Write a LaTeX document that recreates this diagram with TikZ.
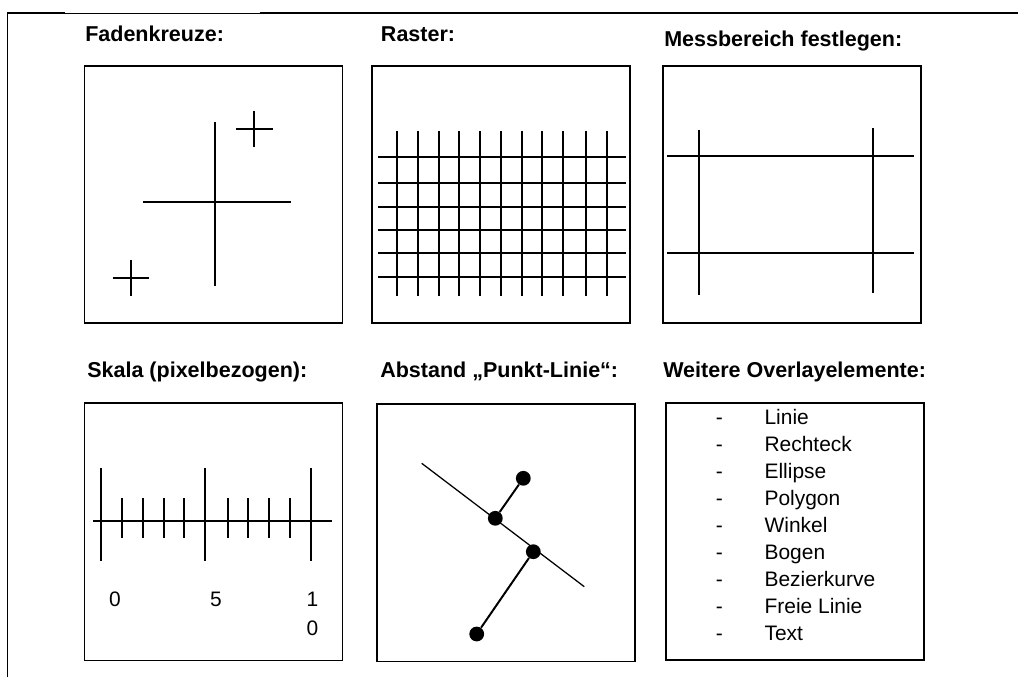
\documentclass[tikz,border=0pt]{standalone}
\usepackage{fontspec}
\setmainfont{Liberation Sans}

\begin{document}
\begin{tikzpicture}[x=0.025cm, y=-0.025cm,
      kasten/.style={draw, line width=1.2pt, minimum width=6.45cm, minimum height=6.43cm, inner sep=0pt},
      titel/.style={anchor=base west, inner sep=0pt, font=\fontsize{15.3pt}{17pt}\selectfont\bfseries},
      eintrag/.style={anchor=base west, inner sep=0pt, font=\fontsize{14.9pt}{17pt}\selectfont},
      zahl/.style={anchor=base, inner sep=0pt, align=center, font=\fontsize{14.9pt}{20pt}\selectfont},
      strich/.style={line width=1.4pt},
      punkt/.style={circle, fill, inner sep=0pt, minimum size=0.37cm}]
      \useasboundingbox (0,0) rectangle (1018,677);

      % rahmen
      \draw[line width=1.4pt] (7.5,677) -- (7.5,13) -- (65,13);
      \draw[line width=0.7pt] (65,13) -- (260,13);
      \draw[line width=1.4pt] (260,13) -- (1018,13);

      % obere reihe
      \node[titel] (t1) at (85,41.7) {Fadenkreuze:};
      \node[titel] (t2) at (380.7,41.7) {Raster:};
      \node[titel] (t3) at (664,46) {Messbereich festlegen:};
      \node[kasten] (k1) at (213.5,194.5) {};
      \node[kasten] (k2) at (501.3,194.5) {};
      \node[kasten] (k3) at (791.8,194.5) {};

      % fadenkreuze
      \draw[strich] (215,122) -- (215,286);
      \draw[strich] (143,202.3) -- (291,202.3);
      \draw[strich] (254,110.7) -- (254,146.7);
      \draw[strich] (236,129.3) -- (272.7,129.3);
      \draw[strich] (130.7,260) -- (130.7,296);
      \draw[strich] (112.7,278.3) -- (149.3,278.3);

      % raster
      \foreach \x in {397,418,439,459,480,501,522,542,563,586,607}
        \draw[strich] (\x,131) -- (\x,296);
      \foreach \y in {157,183,207,230,253,277}
        \draw[strich] (378,\y) -- (626,\y);

      % messbereich
      \draw[strich] (698.7,130) -- (698.7,295);
      \draw[strich] (873.3,128.3) -- (873.3,293.3);
      \draw[strich] (667.3,156) -- (914,156);
      \draw[strich] (667.3,252.7) -- (914,252.7);

      % untere reihe
      \node[titel] (t4) at (87,377.5) {Skala (pixelbezogen):};
      \node[titel] (t5) at (380,377) {Abstand „Punkt-Linie“:};
      \node[titel] (t6) at (663,377) {Weitere Overlayelemente:};
      \node[kasten] (k4) at (213.5,531.9) {};
      \node[kasten] (k5) at (505.7,532.8) {};
      \node[kasten] (k6) at (795,531.7) {};

      % skala
      \draw[strich] (93,521) -- (332,521);
      \foreach \x in {101,205,311}
        \draw[strich] (\x,468) -- (\x,561);
      \foreach \x in {122,143,164,184,228,248,269,290}
        \draw[strich] (\x,498) -- (\x,538);
      \node[zahl] (z0) at (115,606.7) {0};
      \node[zahl] (z5) at (216,606.7) {5};
      \node[zahl] (z10) at (312.5,635) {1\\0};

      % punkt-linie
      \coordinate (l1) at (421.7,463.3);
      \coordinate (l2) at (584.3,586.7);
      \draw[line width=0.9pt] (l1) -- (l2);
      \node[punkt] (p1) at (523.3,478.3) {};
      \node[punkt] (p2) at (495.3,518.3) {};
      \node[punkt] (p3) at (533.3,551.7) {};
      \node[punkt] (p4) at (476.7,634) {};
      \draw[strich] (p1) -- (p2);
      \draw[strich] (p3) -- (p4);

      % overlayelemente
      \foreach \t [count=\i from 0] in {Linie, Rechteck, Ellipse, Polygon, Winkel, Bogen, Bezierkurve, Freie Linie, Text} {
        \node[eintrag, anchor=base] (d\i) at (719.3,424+27*\i) {-};
        \node[eintrag] (e\i) at (764.3,424+27*\i) {\t};
      }
    \end{tikzpicture}
\end{document}
